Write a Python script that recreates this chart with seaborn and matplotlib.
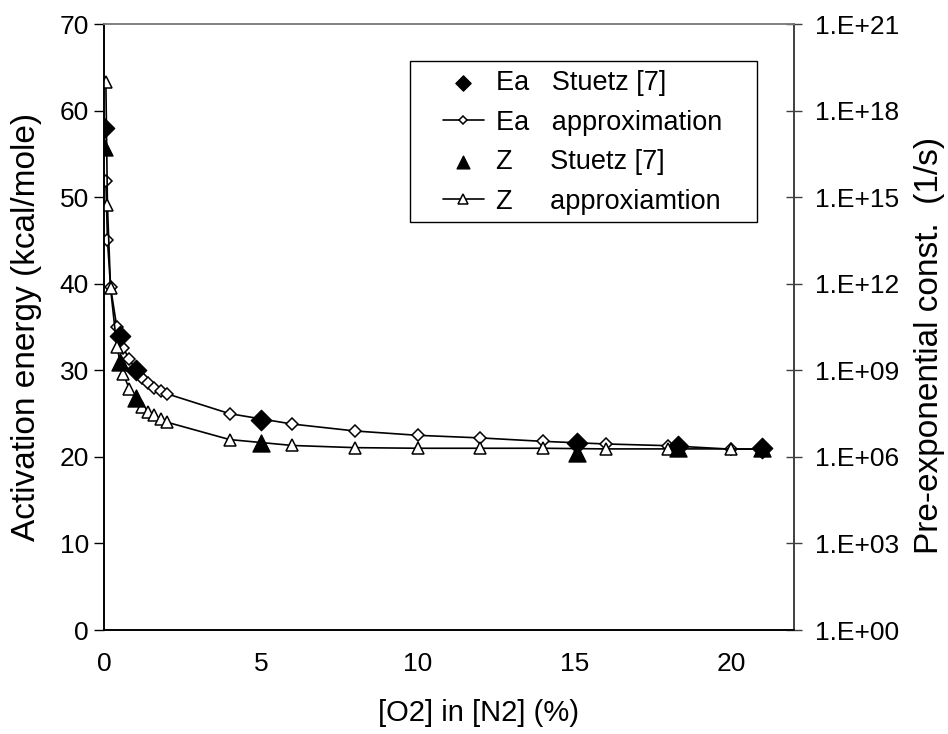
import numpy as np
import pandas as pd
import matplotlib
matplotlib.use("Agg")
import matplotlib.pyplot as plt
from matplotlib.patches import Rectangle
from matplotlib.ticker import FixedLocator, FuncFormatter, NullLocator
import seaborn as sns

# O2 concentration in N2 (%)
x_stuetz = [0, 0.5, 1, 5, 15.1, 18.3, 21]
ea_stuetz = [58, 34, 30, 24.3, 21.6, 21.3, 21.0]
z_stuetz = [5.5e16, 1.9e9, 1.1e8, 3.0e6, 1.4e6, 2.0e6, 2.0e6]

x_approx = [0.05, 0.1, 0.2, 0.4, 0.6, 0.8, 1.0, 1.2, 1.4, 1.6, 1.8, 2,
            4, 6, 8, 10, 12, 14, 16, 18, 20, 21]
ea_approx = [51.9, 45.1, 39.6, 35.0, 32.6, 31.3, 30.1, 29.1, 28.5, 28.0, 27.6, 27.3,
             25.0, 23.8, 23.0, 22.5, 22.2, 21.8, 21.5, 21.3, 20.9, 20.9]
z_approx = [1.0e19, 5.4e14, 7.1e11, 6.5e9, 7.6e8, 2.3e8, 1.1e8, 5.5e7, 3.6e7, 2.8e7, 2.1e7, 1.6e7,
            4.0e6, 2.5e6, 2.1e6, 2.0e6, 2.0e6, 2.0e6, 1.9e6, 1.9e6, 1.9e6, 1.9e6]

labels = ["Ea   Stuetz [7]", "Ea   approximation", "Z     Stuetz [7]", "Z     approxiamtion"]

sns.set_style("white")
plt.rcParams["font.family"] = ["Liberation Sans", "DejaVu Sans"]
plt.rcParams["text.color"] = "black"
plt.rcParams["axes.labelcolor"] = "black"
plt.rcParams["xtick.color"] = "black"
plt.rcParams["ytick.color"] = "black"

stuetz_df = pd.DataFrame({"x": x_stuetz, "ea": ea_stuetz, "z": z_stuetz})
approx_df = pd.DataFrame({"x": x_approx, "ea": ea_approx, "z": z_approx})

W, H = 948, 734
fig = plt.figure(figsize=(W / 100, H / 100), dpi=100)
ax = fig.add_axes([104.3 / W, 1 - 630 / H, 689.4 / W, 605.7 / H])
ax2 = ax.twinx()

# left axis: activation energy
sns.lineplot(data=approx_df, x="x", y="ea", ax=ax, color="black", lw=1.2,
             marker="D", markersize=6, markerfacecolor="white", markeredgecolor="black",
             markeredgewidth=1.1, label=labels[1], legend=False)
sns.scatterplot(data=stuetz_df, x="x", y="ea", ax=ax, color="black", marker="D",
                s=110, edgecolor="black", label=labels[0], legend=False, zorder=5)

# right axis: pre-exponential constant (log)
sns.lineplot(data=approx_df, x="x", y="z", ax=ax2, color="black", lw=1.2,
             marker="^", markersize=9, markerfacecolor="white", markeredgecolor="black",
             markeredgewidth=1.1, label=labels[3], legend=False)
sns.scatterplot(data=stuetz_df, x="x", y="z", ax=ax2, color="black", marker="^",
                s=150, edgecolor="black", label=labels[2], legend=False, zorder=5)

ax.set_xlim(0, 22)
ax.set_ylim(0, 70)
ax.set_xticks([0, 5, 10, 15, 20])
ax.set_yticks(np.arange(0, 71, 10))
ax2.set_yscale("log")
ax2.set_ylim(1, 1e21)
ax2.yaxis.set_major_locator(FixedLocator([10.0 ** k for k in range(0, 22, 3)]))
ax2.yaxis.set_minor_locator(NullLocator())
ax2.yaxis.set_major_formatter(FuncFormatter(lambda v, p: "1.E+%02d" % int(round(np.log10(v)))))

ax.set_xlabel("[O2] in [N2] (%)", fontsize=21)
ax.set_ylabel("Activation energy (kcal/mole)", fontsize=24)
ax2.set_ylabel("Pre-exponential const.  (1/s)", fontsize=24)
ax.xaxis.set_label_coords(0.5435, (630 - 699) / 605.7)
ax.yaxis.set_label_coords((42 - 104.3) / 689.4, 0.5)
ax2.yaxis.set_label_coords((914 - 104.3) / 689.4, 0.47)

ax.tick_params(axis="x", labelsize=19, direction="out", length=7, width=1, pad=9)
ax.tick_params(axis="y", labelsize=19, direction="out", length=7, width=1, pad=4)
ax2.tick_params(axis="y", labelsize=19, direction="inout", length=11, width=1, color="#404040", pad=10)

for a in (ax, ax2):
    a.spines["top"].set_color("#808080")
    a.spines["left"].set_color("black")
    a.spines["bottom"].set_color("black")
    a.spines["right"].set_color("#404040")
    for s in a.spines.values():
        s.set_linewidth(1.2)

h1, l1 = ax.get_legend_handles_labels()
h2, l2 = ax2.get_legend_handles_labels()
handles = dict(zip(l1 + l2, h1 + h2))
leg = ax2.legend([handles[l] for l in labels], labels, loc="upper left",
                 bbox_to_anchor=(443 / W, 1 - 70 / H), bbox_transform=fig.transFigure,
                 fontsize=19.5, frameon=False, borderpad=0, borderaxespad=0,
                 handlelength=1.5, handletextpad=0.45, labelspacing=0.5,
                 markerscale=0.75)
# legend box
fig.patches.append(Rectangle((410 / W, 1 - 222 / H), 347 / W, 161 / H,
                             transform=fig.transFigure, fill=False,
                             edgecolor="black", linewidth=1.0, zorder=10))

fig.savefig("out.png", dpi=100)
